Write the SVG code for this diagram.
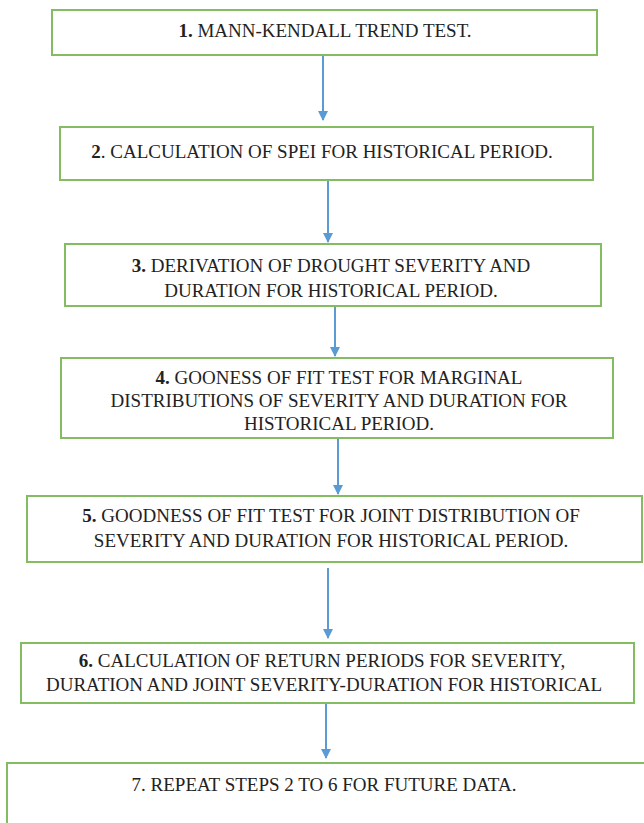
<svg xmlns="http://www.w3.org/2000/svg" width="644" height="823" viewBox="0 0 644 823">
<style>
.box{fill:#fff;stroke:#84BC62;stroke-width:2}
.t{font-size:19px;fill:#222;text-anchor:middle}
.b{font-weight:bold}
.c{stroke:#5B9BD5;stroke-width:2;fill:none}
</style>
<defs>
<marker id="ah" viewBox="0 0 10 10" refX="9" refY="5" markerWidth="5" markerHeight="5" orient="auto" markerUnits="strokeWidth">
<path d="M0,0 L10,5 L0,10 z" fill="#5B9BD5"/>
</marker>
</defs>
<rect width="644" height="823" fill="#fff"/>
<g id="connectors">
<line class="c" x1="323" y1="55" x2="323" y2="120" marker-end="url(#ah)"/>
<line class="c" x1="328" y1="172" x2="328" y2="242" marker-end="url(#ah)"/>
<line class="c" x1="335" y1="296" x2="335" y2="356" marker-end="url(#ah)"/>
<line class="c" x1="338" y1="425" x2="338" y2="494" marker-end="url(#ah)"/>
<line class="c" x1="328" y1="568" x2="328" y2="638" marker-end="url(#ah)"/>
<line class="c" x1="326" y1="703" x2="326" y2="758" marker-end="url(#ah)"/>
</g>
<g font-family="Liberation Serif, Tinos, DejaVu Serif, serif">
<g id="n1">
<rect class="box" x="52" y="10" width="545" height="45"/>
<text class="t" x="325" y="37"><tspan class="b">1.</tspan> MANN-KENDALL TREND TEST.</text>
</g>
<g id="n2">
<rect class="box" x="60" y="127" width="533" height="53"/>
<text class="t" x="322" y="158"><tspan class="b">2</tspan>. CALCULATION OF SPEI FOR HISTORICAL PERIOD.</text>
</g>
<g id="n3">
<rect class="box" x="65" y="244" width="536" height="62"/>
<text class="t" x="331" y="272"><tspan class="b">3.</tspan> DERIVATION OF DROUGHT SEVERITY AND</text>
<text class="t" x="331" y="297">DURATION FOR HISTORICAL PERIOD.</text>
</g>
<g id="n4">
<rect class="box" x="61" y="358" width="552" height="80"/>
<text class="t" x="339" y="384"><tspan class="b">4.</tspan> GOONESS OF FIT TEST FOR MARGINAL</text>
<text class="t" x="339" y="407">DISTRIBUTIONS OF SEVERITY AND DURATION FOR</text>
<text class="t" x="339" y="430">HISTORICAL PERIOD.</text>
</g>
<g id="n5">
<rect class="box" x="27" y="496" width="615" height="66"/>
<text class="t" x="331" y="522"><tspan class="b">5.</tspan> GOODNESS OF FIT TEST FOR JOINT DISTRIBUTION OF</text>
<text class="t" x="331" y="547">SEVERITY AND DURATION FOR HISTORICAL PERIOD.</text>
</g>
<g id="n6">
<rect class="box" x="21" y="643" width="613" height="60"/>
<text class="t" x="322" y="667"><tspan class="b">6.</tspan> CALCULATION OF RETURN PERIODS FOR SEVERITY,</text>
<text class="t" x="324" y="691">DURATION AND JOINT SEVERITY-DURATION FOR HISTORICAL</text>
</g>
<g id="n7">
<rect class="box" x="7" y="763" width="650" height="80"/>
<text class="t" x="324" y="791">7. REPEAT STEPS 2 TO 6 FOR FUTURE DATA.</text>
</g>
</g>
</svg>
